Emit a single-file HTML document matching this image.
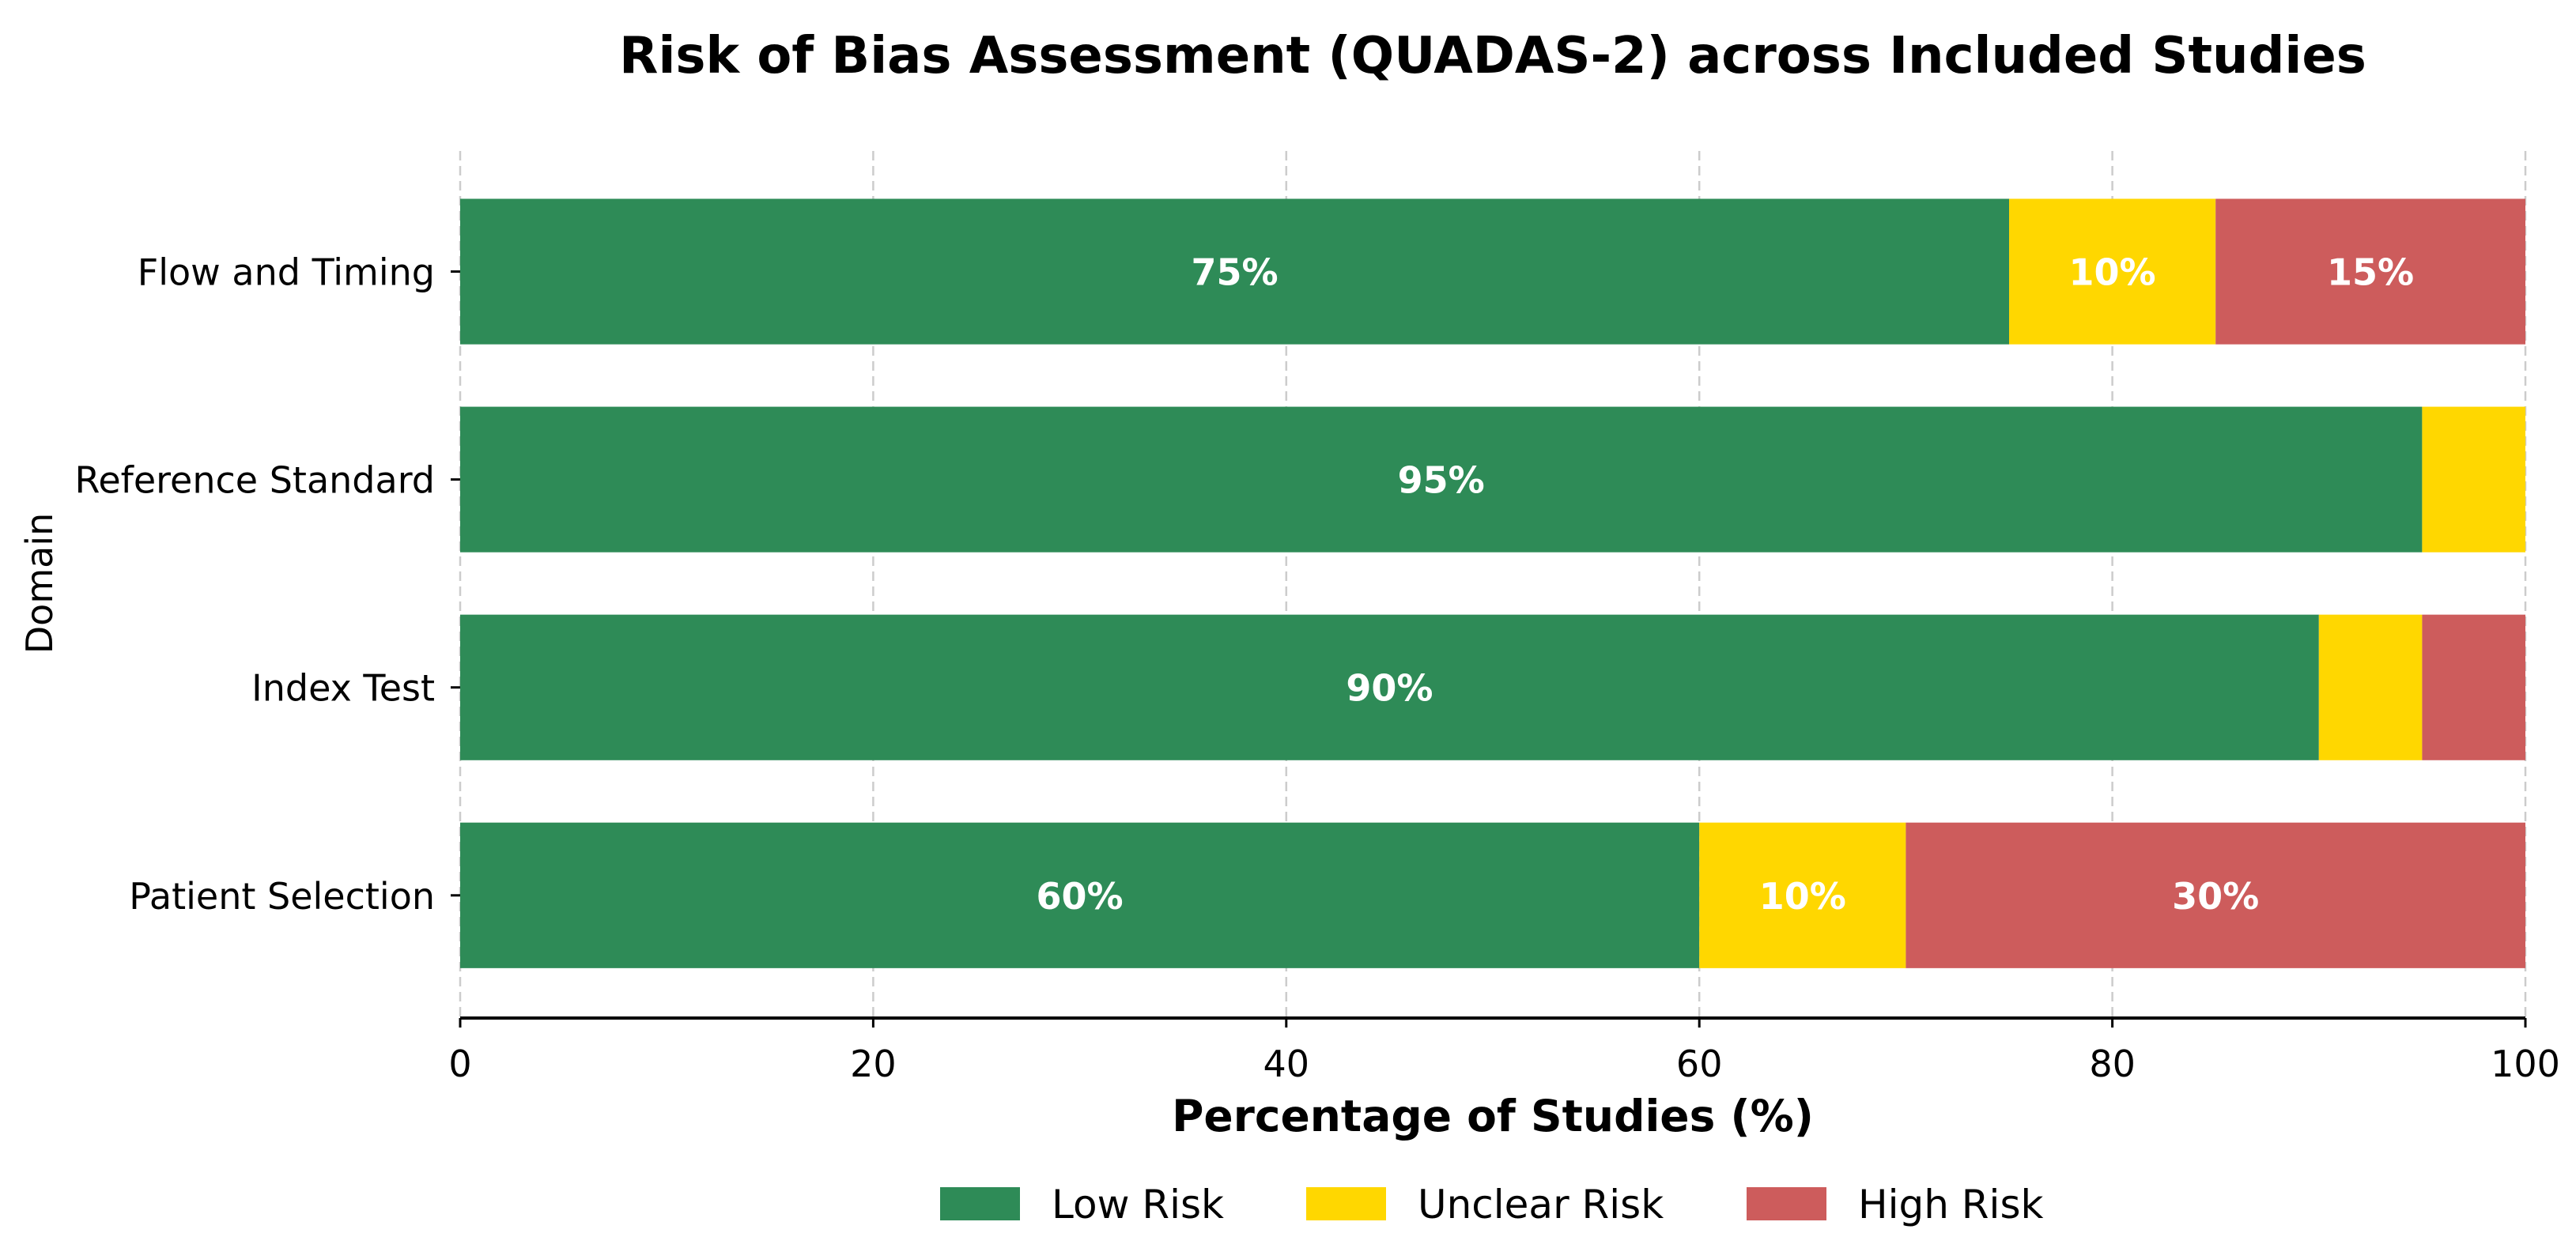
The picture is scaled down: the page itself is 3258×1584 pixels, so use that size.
<!DOCTYPE html>
<html><head><meta charset="utf-8"><style>
html,body{margin:0;padding:0;background:#fff;}
svg{display:block;font-family:"DejaVu Sans","Liberation Sans",sans-serif;}
</style></head><body>
<svg id="chart" width="3258" height="1584" viewBox="0 0 3258 1584">
<text x="1888" y="92" text-anchor="middle" font-size="64" font-weight="bold">Risk of Bias Assessment (QUADAS-2) across Included Studies</text>
<g id="grid"></g>
<g id="bars"></g>
<g id="axes"></g>
<text x="1888" y="1431" text-anchor="middle" font-size="55" font-weight="bold">Percentage of Studies (%)</text>
<text transform="translate(66,738) rotate(-90)" text-anchor="middle" font-size="46">Domain</text>
<g id="legend"></g>
</svg>
<script>
const categories = ["Patient Selection","Index Test","Reference Standard","Flow and Timing"];
const lowRisk = [60,90,95,75];
const unclearRisk = [10,5,5,10];
const highRisk = [30,5,0,15];
const xTicks = [0,20,40,60,80,100];
const seriesNames = ["Low Risk","Unclear Risk","High Risk"];
const colors = ["#2E8B57","#FFD700","#CD5C5C"];
const NS="http://www.w3.org/2000/svg";
const X0=582,X1=3194,Y0=1288,Y1=191;
const yMin=-0.59,yMax=3.58;
const xs=v=>X0+(v/100)*(X1-X0);
const ys=v=>Y0-(v-yMin)/(yMax-yMin)*(Y0-Y1);
const bh=0.7*(Y0-Y1)/(yMax-yMin);
function mk(t,a,p){const e=document.createElementNS(NS,t);for(const k in a)e.setAttribute(k,a[k]);p.appendChild(e);return e;}
const grid=document.getElementById('grid'),bars=document.getElementById('bars'),axes=document.getElementById('axes'),legend=document.getElementById('legend');
xTicks.forEach(t=>{
 const g=mk('line',{x1:xs(t),x2:xs(t),y1:Y1,y2:Y0,stroke:'#cccccc','stroke-width':2.5,'stroke-dasharray':'12,7'},grid);
 
 
 const tk=mk('line',{x1:xs(t),x2:xs(t),y1:Y0,y2:Y0+12,stroke:'#000','stroke-width':3},axes);
 
 
 const tl=mk('text',{x:xs(t),y:Y0+74,'text-anchor':'middle','font-size':46},axes);
 tl.textContent=t;
 
 
});
const series=[lowRisk,unclearRisk,highRisk];
categories.forEach((c,i)=>{
 let acc=0;const cy=ys(i);
 series.forEach((s,j)=>{
  const v=s[i];
  if(v>0){
   const r=mk('rect',{x:xs(acc),y:cy-bh/2,width:xs(acc+v)-xs(acc),height:bh,fill:colors[j]},bars);
   
   
   if(v>=10){
    const t=mk('text',{x:xs(acc+v/2),y:cy+17,'text-anchor':'middle','font-size':46,'font-weight':'bold',fill:'#fff'},bars);
    t.textContent=v+'%';
    
    
   }
  }
  acc+=v;
 });
 const tk=mk('line',{x1:X0-12,x2:X0,y1:cy,y2:cy,stroke:'#000','stroke-width':3},axes);
 
 
 const tl=mk('text',{x:X0-32,y:cy+17,'text-anchor':'end','font-size':46},axes);
 tl.textContent=c;
 
 
});
const ax=mk('line',{x1:X0,x2:X1,y1:Y0,y2:Y0,stroke:'#000','stroke-width':4},axes);


const lx=[1189,1652,2209];
seriesNames.forEach((n,j)=>{
 const r=mk('rect',{x:lx[j],y:1502,width:101,height:42,fill:colors[j]},legend);
 
 
 const t=mk('text',{x:lx[j]+141,y:1541,'font-size':50},legend);
 t.textContent=n;
 
 
});
</script>
</body></html>
